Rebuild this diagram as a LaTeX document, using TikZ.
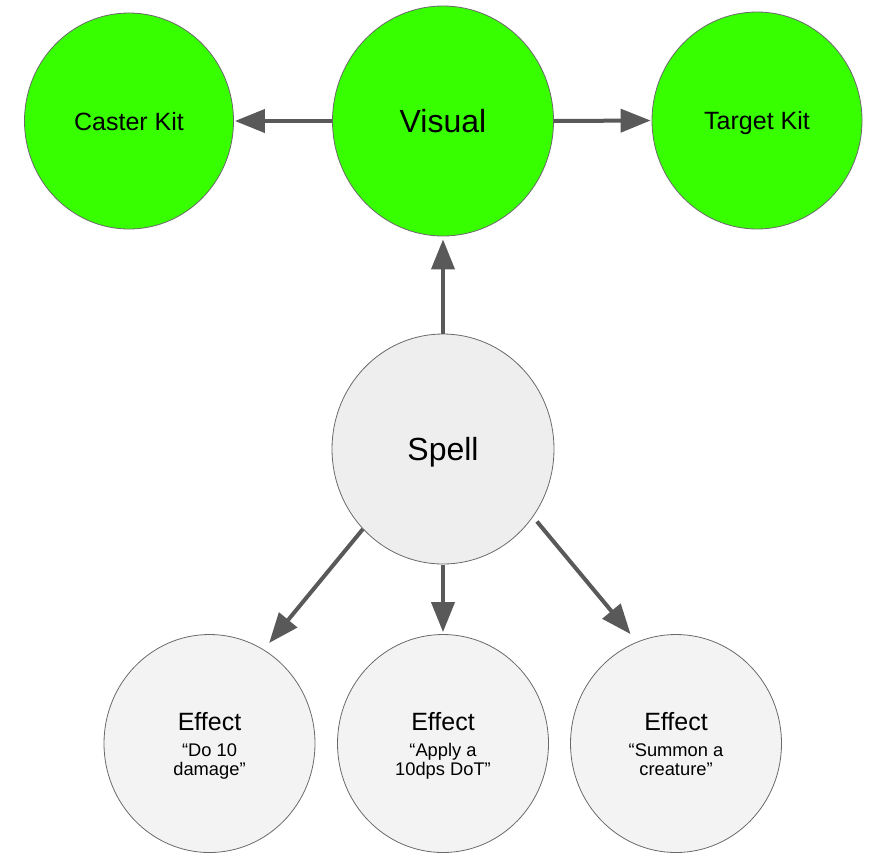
\documentclass[tikz,border=0pt]{standalone}
\usepackage{fontspec}
\setmainfont{Liberation Sans}
\usetikzlibrary{shapes.geometric,arrows.meta,calc}
\definecolor{kitgreen}{HTML}{38FF00}
\definecolor{spellgray}{HTML}{EEEEEE}
\definecolor{effgray}{HTML}{F3F3F3}
\definecolor{edgegray}{HTML}{595959}
\definecolor{rimgray}{HTML}{6A6A6A}
\tikzset{
  bubble/.style={ellipse, draw=rimgray, line width=0.8pt, inner sep=0pt, text depth=0pt},
  greenbub/.style={bubble, fill=kitgreen},
  spellbub/.style={bubble, fill=spellgray},
  effbub/.style={bubble, fill=effgray, minimum width=211pt, minimum height=218pt},
  kitlabel/.style={font=\fontsize{25}{30}\selectfont},
  biglabel/.style={font=\fontsize{32}{38}\selectfont},
  efftitle/.style={font=\fontsize{25}{30}\selectfont, anchor=base},
  effdesc/.style={font=\fontsize{18.3}{19.7}\selectfont, anchor=base},
  conn/.style={draw=edgegray, line width=4pt, -{Triangle[length=30pt,width=23pt]}}
}
\begin{document}
\begin{tikzpicture}[x=1pt,y=-1pt]
\useasboundingbox (0,0) rectangle (896,860);
% top row
\node[greenbub, minimum width=209pt, minimum height=216pt, kitlabel] (caster) at (129,121) {Caster Kit};
\node[greenbub, minimum width=221pt, minimum height=230pt, biglabel] (vis) at (443,121) {Visual};
\node[greenbub, minimum width=210pt, minimum height=217pt, kitlabel] (target) at (757,120.5) {Target Kit};
% spell
\node[spellbub, minimum width=222pt, minimum height=230pt, biglabel] (spell) at (443,449) {Spell};
% effects
\node[effbub] (e1) at (209.5,743.5) {};
\node[effbub] (e2) at (443,743.5) {};
\node[effbub] (e3) at (676,743.5) {};
\node[efftitle] (e1t) at ($(e1)+(0,-13.5)$) {Effect};
\node[efftitle] (e2t) at ($(e2)+(0,-13.5)$) {Effect};
\node[efftitle] (e3t) at ($(e3)+(0,-13.5)$) {Effect};
\node[effdesc] (e1a) at ($(e1)+(0,12.5)$) {“Do 10};
\node[effdesc] (e1b) at ($(e1)+(0,32.2)$) {damage”};
\node[effdesc] (e2a) at ($(e2)+(0,12.5)$) {“Apply a};
\node[effdesc] (e2b) at ($(e2)+(0,32.2)$) {10dps DoT”};
\node[effdesc] (e3a) at ($(e3)+(0,12.5)$) {“Summon a};
\node[effdesc] (e3b) at ($(e3)+(0,32.2)$) {creature”};
% connectors
\draw[conn, shorten >=1pt] (vis.west) -- (caster.east);
\draw[conn, shorten >=1pt] (vis.east) -- (target.west);
\draw[conn, shorten >=3pt] (spell.north) -- (vis.south);
\draw[conn, shorten >=8.5pt] (spell.225.7) -- (e1.60.5);
\draw[conn, shorten >=2pt, shorten <=1pt] (spell.south) -- (e2.north);
\draw[conn, shorten >=10pt, shorten <=6pt] (spell.-37.8) -- (e3.111.2);
\end{tikzpicture}
\end{document}
